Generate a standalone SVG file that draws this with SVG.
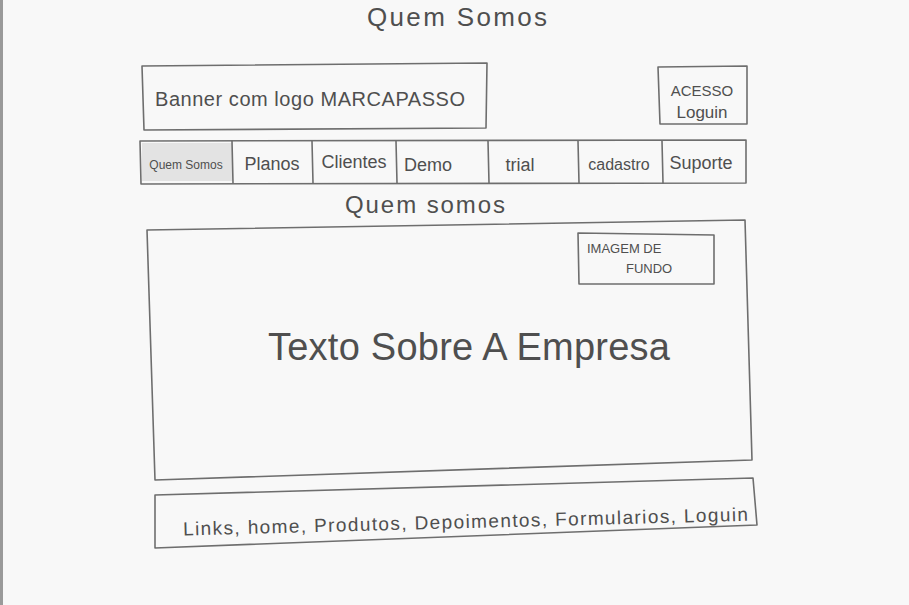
<svg xmlns="http://www.w3.org/2000/svg" width="909" height="605" viewBox="0 0 909 605">
  <style>
    .box { fill: none; stroke: #6e6e6e; stroke-width: 1.6; stroke-linejoin: round; stroke-linecap: round; }
    .txt { font-family: "Liberation Sans", "DejaVu Sans", sans-serif; fill: #4f4f4f; }
  </style>
  <!-- paper -->
  <rect x="0" y="0" width="909" height="605" fill="#f8f8f8"/>
  <rect x="0" y="0" width="3" height="605" fill="#9a9a9a"/>

  <!-- page title -->
  <g id="title">
    <text class="txt" x="367" y="26" font-size="26" textLength="180" lengthAdjust="spacing" fill="#666">Quem Somos</text>
  </g>

  <!-- header banner -->
  <g id="banner">
    <path class="box" d="M142 66 L487 63 L486 128 L144 130 Z"/>
    <text class="txt" x="155" y="106" font-size="20" textLength="310" lengthAdjust="spacing">Banner com logo MARCAPASSO</text>
  </g>

  <!-- login access -->
  <g id="login">
    <path class="box" d="M658 67 L747 66 L747 124 L660 124 Z"/>
    <text class="txt" x="702" y="96" font-size="15" text-anchor="middle" fill="#777">ACESSO</text>
    <text class="txt" x="702" y="118" font-size="17" text-anchor="middle">Loguin</text>
  </g>

  <!-- navigation bar -->
  <g id="nav">
    <rect x="142" y="143" width="90" height="38" fill="#e3e3e3"/>
    <path class="box" d="M140 141 L746 140 L746 183 L141 184 Z"/>
    <path class="box" d="M232 141 L233 183 M312 141 L313 183 M396 141 L397 183 M488 141 L489 183 M578 141 L579 183 M662 141 L663 183"/>
    <text class="txt" x="186" y="169" font-size="12" text-anchor="middle">Quem Somos</text>
    <text class="txt" x="272" y="170" font-size="18" text-anchor="middle">Planos</text>
    <text class="txt" x="354" y="168" font-size="18" text-anchor="middle">Clientes</text>
    <text class="txt" x="428" y="171" font-size="18" text-anchor="middle">Demo</text>
    <text class="txt" x="520" y="171" font-size="18" text-anchor="middle">trial</text>
    <text class="txt" x="619" y="170" font-size="16" text-anchor="middle">cadastro</text>
    <text class="txt" x="701" y="169" font-size="18" text-anchor="middle">Suporte</text>
  </g>

  <!-- section heading -->
  <g id="section-title">
    <text class="txt" x="345" y="213" font-size="24" textLength="160" lengthAdjust="spacing">Quem somos</text>
  </g>

  <!-- main content area -->
  <g id="content">
    <path class="box" d="M147 230 L745 220 L752 460 L155 480 Z"/>
    <text class="txt" x="268" y="360" font-size="38" textLength="402" lengthAdjust="spacing">Texto Sobre A Empresa</text>
  </g>

  <!-- background image placeholder -->
  <g id="background-image">
    <path class="box" d="M578 233 L714 235 L714 284 L579 284 Z"/>
    <text class="txt" x="587" y="253" font-size="13">IMAGEM DE</text>
    <text class="txt" x="626" y="273" font-size="13">FUNDO</text>
  </g>

  <!-- footer links -->
  <g id="footer">
    <path class="box" d="M155 495 L753 478 L757 525 L155 548 Z"/>
    <text class="txt" x="183" y="528" font-size="19" textLength="565" lengthAdjust="spacing" transform="rotate(-1.5 470 520)">Links, home, Produtos, Depoimentos, Formularios, Loguin</text>
  </g>
</svg>
